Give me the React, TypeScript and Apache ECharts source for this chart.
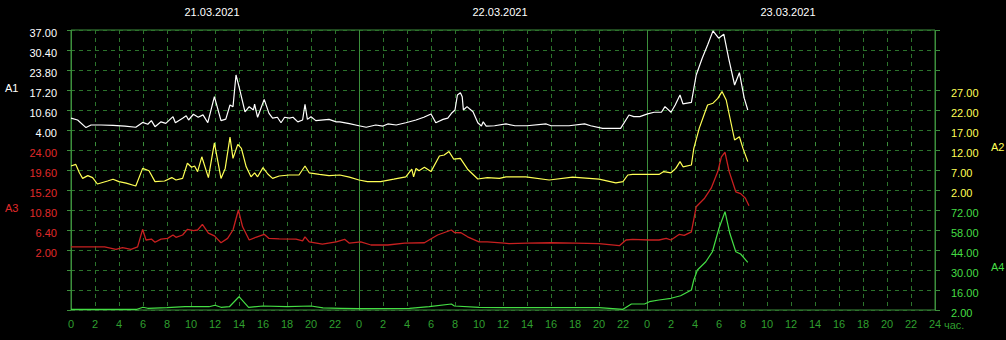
import React, { useEffect, useRef } from "react";
import * as echarts from "echarts";

// ---- data: [hour since 21.03.2021 00:00, value] ----
const dates = ["21.03.2021", "22.03.2021", "23.03.2021"];
const hourTicks = [0, 2, 4, 6, 8, 10, 12, 14, 16, 18, 20, 22];

const a1Ticks = [4, 10.6, 17.2, 23.8, 30.4, 37];
const a3Ticks = [2, 6.4, 10.8, 15.2, 19.6, 24];
const a2Ticks = [2, 7, 12, 17, 22, 27];
const a4Ticks = [2, 16, 30, 44, 58, 72];

const a1Data = [[0,7.9],[0.55,7.3],[1.25,4.8],[1.67,5.65],[2.5,5.65],[3.5,5.5],[4.5,5.3],[5.4,4.9],[5.97,6.5],[6.4,5.9],[6.7,7.1],[7.0,5.1],[7.5,6.7],[7.9,6.2],[8.5,8.4],[8.7,6.4],[9.3,7.9],[9.6,8.7],[9.8,7.3],[10.2,9.2],[10.6,8.2],[11.0,9.0],[11.4,6.4],[11.95,15.0],[12.5,7.1],[12.9,7.6],[13.25,12.25],[13.5,11.7],[13.75,22.15],[14.0,18.3],[14.5,10.0],[14.85,11.7],[15.2,10.6],[15.3,12.5],[15.55,8.2],[16.1,14.1],[16.5,9.5],[16.8,7.9],[17.2,8.2],[17.5,6.4],[17.8,8.2],[18.2,7.9],[18.5,8.2],[18.9,6.7],[19.3,7.3],[19.5,12.5],[19.7,7.5],[20.0,8.4],[20.4,7.1],[21.5,7.5],[22.1,6.7],[22.4,6.7],[23.2,6.1],[24.0,5.4],[24.6,4.9],[25.4,5.65],[26.0,5.3],[26.4,6.0],[27.1,5.65],[27.9,6.4],[28.75,7.3],[29.4,8.2],[30.0,9.3],[30.4,6.4],[31.0,7.5],[31.4,7.9],[31.75,9.7],[32.0,10.6],[32.2,15.55],[32.45,16.3],[32.6,15.0],[32.7,10.6],[33.0,11.7],[33.5,10.0],[33.9,6.4],[34.2,5.3],[34.35,6.7],[34.6,5.3],[35.3,5.4],[36.25,6.0],[37,5.4],[38,5.4],[39.6,6.0],[40,5.4],[41.5,5.4],[42.8,6.0],[43.3,5.4],[44.3,4.55],[45.8,4.55],[46.5,8.95],[46.9,8.4],[47.4,8.4],[48.05,9.3],[48.6,9.85],[49.2,9.85],[49.5,11.7],[50.0,9.85],[50.35,12.25],[50.75,15.55],[51.0,12.6],[51.7,13.1],[52.1,22.15],[52.6,27.7],[53.05,32.05],[53.5,36.7],[53.97,34.3],[54.4,35.6],[54.8,27.7],[55.3,18.85],[55.7,22.9],[56.1,14.5],[56.4,10.6]];

const a2Data = [[0,8.0],[0.4,8.4],[0.7,6.3],[0.97,4.9],[1.4,5.6],[1.8,5.1],[2.2,3.5],[3.05,4.25],[3.5,4.7],[4.0,4.1],[4.6,3.7],[5.4,3.0],[5.97,7.4],[6.5,6.8],[7.0,4.1],[7.8,4.25],[8.4,5.1],[8.75,4.5],[9.3,4.9],[9.7,8.7],[10.05,7.7],[10.3,8.0],[10.55,6.6],[10.9,10.3],[11.45,5.1],[11.95,13.8],[12.5,4.9],[12.85,7.4],[13.25,15.2],[13.5,9.9],[13.9,13.4],[14.2,12.4],[14.6,7.8],[15.0,5.3],[15.3,6.3],[15.55,5.3],[16.0,7.6],[16.4,6.0],[16.8,4.9],[17.35,5.5],[18.2,5.75],[19.0,5.75],[19.5,8.0],[19.85,6.3],[20.7,5.9],[21.5,5.6],[22.4,5.75],[23.2,5.2],[24.0,4.5],[24.7,4.1],[25.8,4.1],[26.9,4.7],[27.9,5.3],[28.4,7.2],[28.55,5.3],[28.75,7.4],[29.0,6.8],[29.45,7.7],[30.0,6.6],[30.7,10.5],[31.1,10.75],[31.5,11.6],[31.9,9.7],[32.45,9.9],[33.05,7.2],[33.9,4.75],[34.7,5.1],[35.7,4.9],[36.25,5.3],[37.9,5.3],[39.85,4.5],[41.8,5.2],[44.0,4.7],[45.4,3.8],[46.0,4.1],[46.4,5.75],[46.8,5.9],[48.2,5.9],[49.0,5.9],[49.4,6.6],[50.0,6.3],[50.4,7.4],[50.75,9.1],[51.0,7.8],[51.7,8.25],[51.9,12.4],[52.35,17.4],[52.8,21.2],[53.05,23.25],[53.5,23.7],[53.9,24.9],[54.25,26.6],[54.6,24.5],[55.3,14.5],[55.7,15.3],[56.0,12.4],[56.4,9.1]];

const a3Data = [[0,2.7],[2.8,2.7],[3.75,2.15],[4.3,2.5],[5.0,2.15],[5.55,2.7],[5.97,6.55],[6.25,4.2],[6.7,4.4],[7.0,3.7],[7.5,4.4],[8.05,4.55],[8.5,5.3],[8.75,4.8],[9.3,5.3],[9.7,6.55],[10.2,6.25],[10.55,6.4],[10.95,7.65],[11.45,5.7],[11.95,5.1],[12.5,3.6],[13.05,4.55],[13.5,6.4],[13.95,10.8],[14.3,7.1],[14.85,4.2],[15.4,4.8],[16.1,5.45],[16.5,4.55],[17.35,4.45],[18.75,4.4],[19.3,4.0],[19.5,4.9],[19.85,3.8],[20.95,3.3],[22.1,3.8],[22.8,4.35],[23.2,3.5],[24.15,3.8],[25.0,3.1],[26.4,3.1],[27.8,3.5],[29.45,3.6],[30.55,5.3],[31.7,6.4],[31.95,5.85],[32.5,5.8],[33.05,4.9],[34.0,3.8],[34.7,3.8],[36.1,3.5],[36.5,3.4],[38,3.5],[40,3.6],[42,3.5],[44,3.4],[45.7,2.95],[46.25,4.2],[46.8,4.35],[48.2,4.2],[49.0,4.2],[49.6,4.55],[50.0,4.2],[50.7,5.45],[51.1,5.2],[51.7,6.0],[52.1,11.5],[52.8,13.4],[53.35,15.6],[53.9,19.25],[54.2,22.5],[54.5,23.5],[54.85,19.25],[55.4,14.8],[55.8,14.4],[56.2,13.4],[56.5,11.75]];

const a4Data = [[0,2.5],[5.5,2.5],[6.0,3.9],[6.4,3.2],[8,3.6],[9.5,4.3],[11.5,4.3],[12.0,5.3],[12.5,3.9],[13.2,4.3],[14.0,11.3],[14.8,3.9],[16.0,4.8],[18.0,4.3],[20.0,4.8],[21.0,3.5],[22.5,3.2],[24,2.9],[28.2,3.2],[29.85,4.3],[31.7,6.2],[31.95,4.8],[34.0,3.9],[36,3.6],[40,3.6],[44,3.6],[46.0,2.5],[46.7,6.2],[47.8,6.2],[48.2,7.8],[49.0,9.0],[50.0,10.2],[50.8,12.0],[51.7,16.0],[51.9,23.0],[52.2,30.0],[52.9,35.8],[53.45,42.8],[54.0,59.2],[54.5,70.8],[54.9,55.7],[55.4,42.8],[55.8,41.2],[56.4,35.4]];

const FONT = "'Liberation Sans', Arial, sans-serif";
const GRID_DASH = "#2c742c";
const FRAME = "#3c8f3c";
const AXIS_GREEN = "#2f9f2f";
const C_A1 = "#ffffff";
const C_A2 = "#ffff55";
const C_A3 = "#e02a2a";
const C_A3_LINE = "#c82020";
const C_A4 = "#44dd44";

const GRID_LEFT = 71;
const GRID_TOP = 30;
const GRID_W = 864;
const GRID_H = 280;
const ROWS = 14;

function valueAxis(position: string, max: number, step: number, topIndex: number, ticks: number[], color: string, margin: number) {
  const top = max + topIndex * step;
  const bottom = max - (ROWS - topIndex) * step;
  return {
    type: "value",
    position,
    min: bottom,
    max: top,
    axisLine: { show: false },
    axisTick: { show: false },
    splitLine: { show: false },
    axisLabel: {
      customValues: ticks,
      formatter: (v: number) => v.toFixed(2),
      color,
      fontFamily: FONT,
      fontSize: 11,
      margin,
      verticalAlign: "top",
      lineHeight: 6,
    },
  };
}

export default function App() {
  const ref = useRef<HTMLDivElement>(null);
  useEffect(() => {
    document.body.style.margin = "0";
    document.body.style.background = "#000";
    const chart = echarts.init(ref.current!, null, { renderer: "svg" });
    const dayW = GRID_W / 3;
    const option: any = {
      animation: false,
      backgroundColor: "#000000",
      grid: {
        left: GRID_LEFT,
        top: GRID_TOP,
        width: GRID_W,
        height: GRID_H,
        show: true,
        borderColor: FRAME,
        borderWidth: 1,
        backgroundColor: "transparent",
      },
      xAxis: [
        {
          type: "value",
          min: 0,
          max: 72,
          interval: 2,
          axisLine: { show: false },
          axisTick: { show: true, length: 4, lineStyle: { color: FRAME } },
          axisLabel: {
            color: AXIS_GREEN,
            fontFamily: FONT,
            fontSize: 11,
            margin: 8,
            formatter: (v: number) => (v === 72 ? "24" : String(hourTicks[(v % 24) / 2])),
          },
          splitLine: { show: true, lineStyle: { color: GRID_DASH, type: [4, 4], width: 1 } },
        },
        {
          type: "value",
          min: 0,
          max: 72,
          interval: 24,
          axisLine: { show: false },
          axisTick: { show: false },
          axisLabel: { show: false },
          splitLine: { show: true, lineStyle: { color: FRAME, type: "solid", width: 1 } },
        },
      ],
      yAxis: [
        valueAxis("left", 37, 6.6, 0, a1Ticks, C_A1, 14),
        valueAxis("left", 24, 4.4, 6, a3Ticks, C_A3, 14),
        valueAxis("right", 27, 5, 3, a2Ticks, C_A2, 16),
        valueAxis("right", 72, 14, 9, a4Ticks, C_A4, 16),
        {
          type: "value",
          position: "left",
          min: 0,
          max: ROWS,
          interval: 1,
          axisLine: { show: false },
          axisTick: { show: true, length: 4, lineStyle: { color: FRAME } },
          axisLabel: { show: false },
          splitLine: { show: true, lineStyle: { color: GRID_DASH, type: [4, 4], width: 1 } },
        },
        {
          type: "value",
          position: "right",
          min: 0,
          max: ROWS,
          interval: 1,
          axisLine: { show: false },
          axisTick: { show: true, length: 5, lineStyle: { color: FRAME } },
          axisLabel: { show: false },
          splitLine: { show: false },
        },
      ],
      series: [
        { name: "A4", type: "line", xAxisIndex: 0, yAxisIndex: 3, data: a4Data, showSymbol: false, lineStyle: { color: C_A4, width: 1.2 } },
        { name: "A3", type: "line", xAxisIndex: 0, yAxisIndex: 1, data: a3Data, showSymbol: false, lineStyle: { color: C_A3_LINE, width: 1.3 } },
        { name: "A2", type: "line", xAxisIndex: 0, yAxisIndex: 2, data: a2Data, showSymbol: false, lineStyle: { color: C_A2, width: 1.2 } },
        { name: "A1", type: "line", xAxisIndex: 0, yAxisIndex: 0, data: a1Data, showSymbol: false, lineStyle: { color: C_A1, width: 1.2 } },
      ],
      graphic: [
        ...dates.map((d, i) => ({
          type: "text",
          x: GRID_LEFT + dayW * i + dayW / 2 - 3,
          y: 12,
          style: { text: d, fill: "#ffffff", font: `11px ${FONT}`, align: "center", verticalAlign: "middle" },
        })),
        { type: "text", x: 5, y: 88, style: { text: "A1", fill: C_A1, font: `11px ${FONT}`, align: "left", verticalAlign: "middle" } },
        { type: "text", x: 5, y: 208, style: { text: "A3", fill: C_A3, font: `11px ${FONT}`, align: "left", verticalAlign: "middle" } },
        { type: "text", x: 991, y: 147, style: { text: "A2", fill: C_A2, font: `11px ${FONT}`, align: "left", verticalAlign: "middle" } },
        { type: "text", x: 991, y: 267, style: { text: "A4", fill: C_A4, font: `11px ${FONT}`, align: "left", verticalAlign: "middle" } },
        { type: "text", x: 944, y: 325, style: { text: "час.", fill: AXIS_GREEN, font: `11px ${FONT}`, align: "left", verticalAlign: "middle" } },
      ],
    };
    chart.setOption(option);
    return () => chart.dispose();
  }, []);
  return <div ref={ref} style={{ position: "fixed", left: 0, top: 0, width: 1006, height: 340, background: "#000" }} />;
}
